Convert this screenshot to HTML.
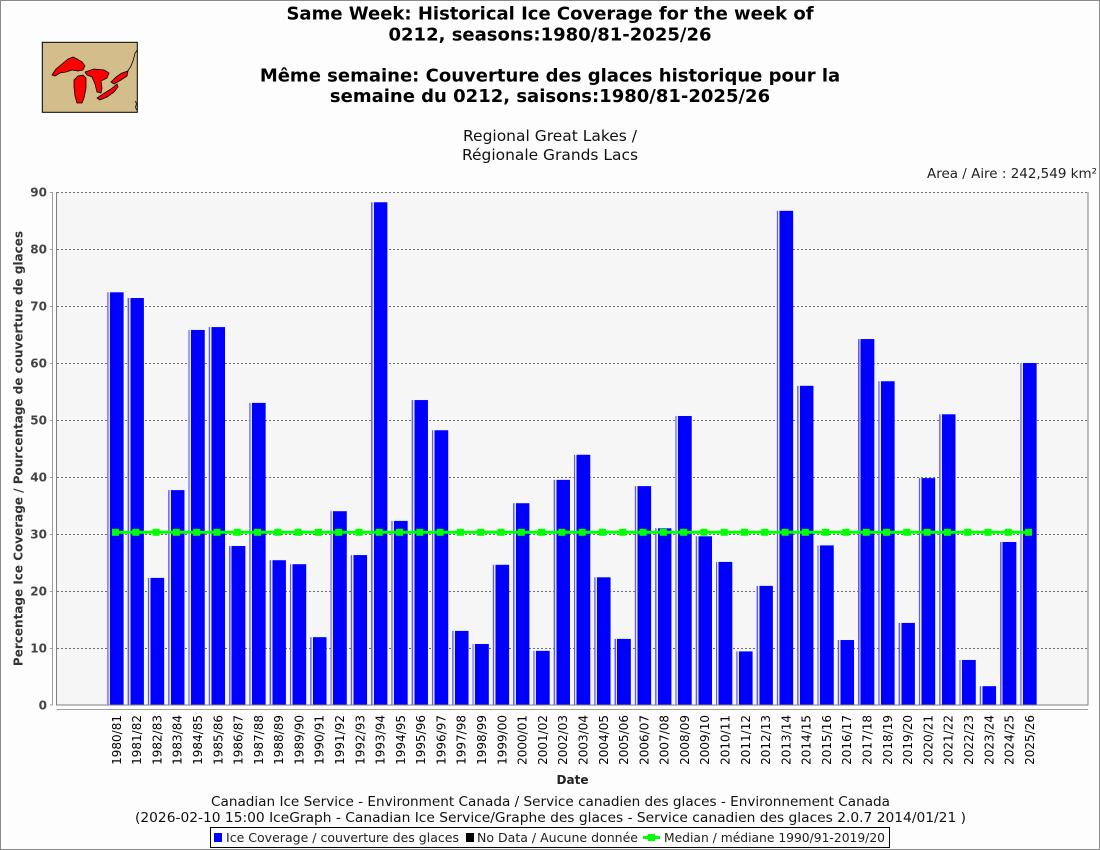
<!DOCTYPE html>
<html>
<head>
<meta charset="utf-8">
<style>
  html,body{margin:0;padding:0;background:#fdfdfd;}
  svg{display:block;}
  text{font-family:"DejaVu Sans","Liberation Sans",sans-serif;}
</style>
</head>
<body>
<svg width="1100" height="850" viewBox="0 0 1100 850" xmlns="http://www.w3.org/2000/svg">
  <defs>
    <linearGradient id="bar" x1="0" y1="0" x2="1" y2="0">
      <stop offset="0" stop-color="#5a5aff"/>
      <stop offset="0.075" stop-color="#5a5aff"/>
      <stop offset="0.075" stop-color="#e4e4ff"/>
      <stop offset="0.165" stop-color="#e4e4ff"/>
      <stop offset="0.165" stop-color="#0000ff"/>
      <stop offset="1" stop-color="#0000ff"/>
    </linearGradient>
  </defs>
  <rect x="0" y="0" width="1100" height="850" fill="#fdfdfd"/>
  <rect x="0.5" y="0.5" width="1099" height="849" fill="none" stroke="#8a8a8a" stroke-width="1"/>

  <!-- Map icon -->
  <g>
    <rect x="42.3" y="42.3" width="95" height="70" fill="#d3bd8b" stroke="#000" stroke-width="1"/>
    <g fill="#ff0000" stroke="#000" stroke-width="0.8" stroke-linejoin="round">
      <polygon points="52,75 56,69 62,64 68,59 73,57 77,59 82,62 85,66 83,70 78,71 72,70 66,72 60,73 55,76"/>
      <polygon points="74,80 78,76 83,75 86,78 86,88 84,98 82,103 77,103 75,96 74,87"/>
      <polygon points="85,72 94,69 104,70 109,73 107,78 101,81 102,88 101,93 97,92 95,84 92,77 87,75"/>
      <polygon points="97,98 103,94 111,89 117,84 118,87 114,92 107,97 100,100"/>
      <polygon points="111,82 116,77 122,73 128,71 127,76 121,80 114,84"/>
    </g>
    <polyline points="127,72 130.7,66.7 133.3,60 135,53.3 137.3,50" fill="none" stroke="#000" stroke-width="0.8"/>
    <polyline points="135.5,101 136.5,104 135.5,107 136.5,110" fill="none" stroke="#000" stroke-width="0.8"/>
  </g>

  <!-- Titles -->
  <g text-anchor="middle" font-weight="bold" font-size="18" fill="#000">
    <text x="550" y="19.5">Same Week: Historical Ice Coverage for the week of</text>
    <text x="550" y="40.5">0212, seasons:1980/81-2025/26</text>
    <text x="550" y="81.5">Même semaine: Couverture des glaces historique pour la</text>
    <text x="550" y="102">semaine du 0212, saisons:1980/81-2025/26</text>
  </g>
  <g text-anchor="middle" font-size="15.3" fill="#111">
    <text x="550" y="141" textLength="174" lengthAdjust="spacingAndGlyphs">Regional Great Lakes /</text>
    <text x="550" y="160" textLength="176" lengthAdjust="spacingAndGlyphs">Régionale Grands Lacs</text>
  </g>
  <text x="927" y="178" font-size="13.5" fill="#222" textLength="170" lengthAdjust="spacingAndGlyphs">Area / Aire : 242,549 km²</text>

  <!-- Plot background -->
  <rect x="56.5" y="192.5" width="1031.5" height="512.5" fill="#f6f6f6"/>

  <!-- Gridlines -->
  <g stroke="#6e6e6e" stroke-width="1" stroke-dasharray="2,2">
    <line x1="57" y1="192.5" x2="1088" y2="192.5"/>
    <line x1="57" y1="249.5" x2="1088" y2="249.5"/>
    <line x1="57" y1="306.5" x2="1088" y2="306.5"/>
    <line x1="57" y1="363.5" x2="1088" y2="363.5"/>
    <line x1="57" y1="420.5" x2="1088" y2="420.5"/>
    <line x1="57" y1="477.5" x2="1088" y2="477.5"/>
    <line x1="57" y1="534.5" x2="1088" y2="534.5"/>
    <line x1="57" y1="591.5" x2="1088" y2="591.5"/>
    <line x1="57" y1="648.5" x2="1088" y2="648.5"/>
  </g>

  <!-- Bars -->
  <g transform="translate(107.3 705) scale(1 -5.7)" fill="url(#bar)">
    <rect x="0" y="0" width="16.3" height="72.4"/>
    <rect x="20.29" y="0" width="16.3" height="71.4"/>
    <rect x="40.58" y="0" width="16.3" height="22.3"/>
    <rect x="60.87" y="0" width="16.3" height="37.7"/>
    <rect x="81.16" y="0" width="16.3" height="65.8"/>
    <rect x="101.45" y="0" width="16.3" height="66.3"/>
    <rect x="121.74" y="0" width="16.3" height="27.9"/>
    <rect x="142.03" y="0" width="16.3" height="53.0"/>
    <rect x="162.32" y="0" width="16.3" height="25.4"/>
    <rect x="182.61" y="0" width="16.3" height="24.7"/>
    <rect x="202.9" y="0" width="16.3" height="11.9"/>
    <rect x="223.19" y="0" width="16.3" height="34.0"/>
    <rect x="243.48" y="0" width="16.3" height="26.3"/>
    <rect x="263.77" y="0" width="16.3" height="88.2"/>
    <rect x="284.06" y="0" width="16.3" height="32.3"/>
    <rect x="304.35" y="0" width="16.3" height="53.5"/>
    <rect x="324.64" y="0" width="16.3" height="48.2"/>
    <rect x="344.93" y="0" width="16.3" height="13.0"/>
    <rect x="365.22" y="0" width="16.3" height="10.7"/>
    <rect x="385.51" y="0" width="16.3" height="24.6"/>
    <rect x="405.8" y="0" width="16.3" height="35.4"/>
    <rect x="426.09" y="0" width="16.3" height="9.5"/>
    <rect x="446.38" y="0" width="16.3" height="39.5"/>
    <rect x="466.67" y="0" width="16.3" height="43.9"/>
    <rect x="486.96" y="0" width="16.3" height="22.4"/>
    <rect x="507.25" y="0" width="16.3" height="11.6"/>
    <rect x="527.54" y="0" width="16.3" height="38.4"/>
    <rect x="547.83" y="0" width="16.3" height="31.0"/>
    <rect x="568.12" y="0" width="16.3" height="50.7"/>
    <rect x="588.41" y="0" width="16.3" height="29.6"/>
    <rect x="608.7" y="0" width="16.3" height="25.1"/>
    <rect x="628.99" y="0" width="16.3" height="9.4"/>
    <rect x="649.28" y="0" width="16.3" height="20.9"/>
    <rect x="669.57" y="0" width="16.3" height="86.7"/>
    <rect x="689.86" y="0" width="16.3" height="56.0"/>
    <rect x="710.15" y="0" width="16.3" height="28.0"/>
    <rect x="730.44" y="0" width="16.3" height="11.4"/>
    <rect x="750.73" y="0" width="16.3" height="64.2"/>
    <rect x="771.02" y="0" width="16.3" height="56.8"/>
    <rect x="791.31" y="0" width="16.3" height="14.4"/>
    <rect x="811.6" y="0" width="16.3" height="39.8"/>
    <rect x="831.89" y="0" width="16.3" height="51.0"/>
    <rect x="852.18" y="0" width="16.3" height="7.9"/>
    <rect x="872.47" y="0" width="16.3" height="3.3"/>
    <rect x="892.76" y="0" width="16.3" height="28.6"/>
    <rect x="913.05" y="0" width="16.3" height="60.0"/>
  </g>

  <!-- Median line -->
  <line x1="115.5" y1="532.3" x2="1028.6" y2="532.3" stroke="#00ff00" stroke-width="3"/>
  <g transform="translate(112 528.8)" fill="#00ff00">
    <rect x="0" width="7" height="7"/>
    <rect x="20.29" width="7" height="7"/>
    <rect x="40.58" width="7" height="7"/>
    <rect x="60.87" width="7" height="7"/>
    <rect x="81.16" width="7" height="7"/>
    <rect x="101.45" width="7" height="7"/>
    <rect x="121.74" width="7" height="7"/>
    <rect x="142.03" width="7" height="7"/>
    <rect x="162.32" width="7" height="7"/>
    <rect x="182.61" width="7" height="7"/>
    <rect x="202.9" width="7" height="7"/>
    <rect x="223.19" width="7" height="7"/>
    <rect x="243.48" width="7" height="7"/>
    <rect x="263.77" width="7" height="7"/>
    <rect x="284.06" width="7" height="7"/>
    <rect x="304.35" width="7" height="7"/>
    <rect x="324.64" width="7" height="7"/>
    <rect x="344.93" width="7" height="7"/>
    <rect x="365.22" width="7" height="7"/>
    <rect x="385.51" width="7" height="7"/>
    <rect x="405.8" width="7" height="7"/>
    <rect x="426.09" width="7" height="7"/>
    <rect x="446.38" width="7" height="7"/>
    <rect x="466.67" width="7" height="7"/>
    <rect x="486.96" width="7" height="7"/>
    <rect x="507.25" width="7" height="7"/>
    <rect x="527.54" width="7" height="7"/>
    <rect x="547.83" width="7" height="7"/>
    <rect x="568.12" width="7" height="7"/>
    <rect x="588.41" width="7" height="7"/>
    <rect x="608.7" width="7" height="7"/>
    <rect x="628.99" width="7" height="7"/>
    <rect x="649.28" width="7" height="7"/>
    <rect x="669.57" width="7" height="7"/>
    <rect x="689.86" width="7" height="7"/>
    <rect x="710.15" width="7" height="7"/>
    <rect x="730.44" width="7" height="7"/>
    <rect x="750.73" width="7" height="7"/>
    <rect x="771.02" width="7" height="7"/>
    <rect x="791.31" width="7" height="7"/>
    <rect x="811.6" width="7" height="7"/>
    <rect x="831.89" width="7" height="7"/>
    <rect x="852.18" width="7" height="7"/>
    <rect x="872.47" width="7" height="7"/>
    <rect x="892.76" width="7" height="7"/>
    <rect x="913.05" width="7" height="7"/>
  </g>

  <!-- Plot border -->
  <line x1="56.5" y1="192" x2="56.5" y2="705.5" stroke="#808080"/>
  <line x1="1088" y1="192" x2="1088" y2="705.5" stroke="#808080"/>
  <line x1="56.5" y1="705" x2="1088" y2="705" stroke="#808080"/>

  <!-- Y axis -->
  <line x1="52.5" y1="192" x2="52.5" y2="705" stroke="#a0a0a0"/>
  <g stroke="#a0a0a0">
    <line x1="50" y1="192.5" x2="52.5" y2="192.5"/>
    <line x1="50" y1="249.5" x2="52.5" y2="249.5"/>
    <line x1="50" y1="306.5" x2="52.5" y2="306.5"/>
    <line x1="50" y1="363.5" x2="52.5" y2="363.5"/>
    <line x1="50" y1="420.5" x2="52.5" y2="420.5"/>
    <line x1="50" y1="477.5" x2="52.5" y2="477.5"/>
    <line x1="50" y1="534.5" x2="52.5" y2="534.5"/>
    <line x1="50" y1="591.5" x2="52.5" y2="591.5"/>
    <line x1="50" y1="648.5" x2="52.5" y2="648.5"/>
    <line x1="50" y1="705" x2="52.5" y2="705"/>
  </g>
  <g text-anchor="end" font-size="12" font-weight="bold" fill="#444">
    <text x="47" y="196.5">90</text>
    <text x="47" y="253.5">80</text>
    <text x="47" y="310.5">70</text>
    <text x="47" y="367.5">60</text>
    <text x="47" y="424.5">50</text>
    <text x="47" y="481.5">40</text>
    <text x="47" y="538.5">30</text>
    <text x="47" y="595.5">20</text>
    <text x="47" y="652.5">10</text>
    <text x="47" y="709.5">0</text>
  </g>
  <text transform="translate(22.5 448.5) rotate(-90)" text-anchor="middle" font-size="12" font-weight="bold" fill="#333">Percentage Ice Coverage / Pourcentage de couverture de glaces</text>

  <!-- X axis -->
  <line x1="57" y1="709.5" x2="1088" y2="709.5" stroke="#a0a0a0"/>
  <g font-size="12" fill="#000" text-anchor="end">
    <text transform="translate(120.8 715) rotate(-90)">1980/81</text>
    <text transform="translate(141.09 715) rotate(-90)">1981/82</text>
    <text transform="translate(161.38 715) rotate(-90)">1982/83</text>
    <text transform="translate(181.67 715) rotate(-90)">1983/84</text>
    <text transform="translate(201.96 715) rotate(-90)">1984/85</text>
    <text transform="translate(222.25 715) rotate(-90)">1985/86</text>
    <text transform="translate(242.54 715) rotate(-90)">1986/87</text>
    <text transform="translate(262.83 715) rotate(-90)">1987/88</text>
    <text transform="translate(283.12 715) rotate(-90)">1988/89</text>
    <text transform="translate(303.41 715) rotate(-90)">1989/90</text>
    <text transform="translate(323.7 715) rotate(-90)">1990/91</text>
    <text transform="translate(343.99 715) rotate(-90)">1991/92</text>
    <text transform="translate(364.28 715) rotate(-90)">1992/93</text>
    <text transform="translate(384.57 715) rotate(-90)">1993/94</text>
    <text transform="translate(404.86 715) rotate(-90)">1994/95</text>
    <text transform="translate(425.15 715) rotate(-90)">1995/96</text>
    <text transform="translate(445.44 715) rotate(-90)">1996/97</text>
    <text transform="translate(465.73 715) rotate(-90)">1997/98</text>
    <text transform="translate(486.02 715) rotate(-90)">1998/99</text>
    <text transform="translate(506.31 715) rotate(-90)">1999/00</text>
    <text transform="translate(526.6 715) rotate(-90)">2000/01</text>
    <text transform="translate(546.89 715) rotate(-90)">2001/02</text>
    <text transform="translate(567.18 715) rotate(-90)">2002/03</text>
    <text transform="translate(587.47 715) rotate(-90)">2003/04</text>
    <text transform="translate(607.76 715) rotate(-90)">2004/05</text>
    <text transform="translate(628.05 715) rotate(-90)">2005/06</text>
    <text transform="translate(648.34 715) rotate(-90)">2006/07</text>
    <text transform="translate(668.63 715) rotate(-90)">2007/08</text>
    <text transform="translate(688.92 715) rotate(-90)">2008/09</text>
    <text transform="translate(709.21 715) rotate(-90)">2009/10</text>
    <text transform="translate(729.5 715) rotate(-90)">2010/11</text>
    <text transform="translate(749.79 715) rotate(-90)">2011/12</text>
    <text transform="translate(770.08 715) rotate(-90)">2012/13</text>
    <text transform="translate(790.37 715) rotate(-90)">2013/14</text>
    <text transform="translate(810.66 715) rotate(-90)">2014/15</text>
    <text transform="translate(830.95 715) rotate(-90)">2015/16</text>
    <text transform="translate(851.24 715) rotate(-90)">2016/17</text>
    <text transform="translate(871.53 715) rotate(-90)">2017/18</text>
    <text transform="translate(891.82 715) rotate(-90)">2018/19</text>
    <text transform="translate(912.11 715) rotate(-90)">2019/20</text>
    <text transform="translate(932.4 715) rotate(-90)">2020/21</text>
    <text transform="translate(952.69 715) rotate(-90)">2021/22</text>
    <text transform="translate(972.98 715) rotate(-90)">2022/23</text>
    <text transform="translate(993.27 715) rotate(-90)">2023/24</text>
    <text transform="translate(1013.56 715) rotate(-90)">2024/25</text>
    <text transform="translate(1033.85 715) rotate(-90)">2025/26</text>
  </g>
  <text x="572.5" y="784" text-anchor="middle" font-size="12" font-weight="bold" fill="#222">Date</text>

  <!-- Footer -->
  <g font-size="13.5" fill="#111">
    <text x="211" y="806" textLength="679" lengthAdjust="spacingAndGlyphs">Canadian Ice Service - Environment Canada / Service canadien des glaces - Environnement Canada</text>
    <text x="135" y="822" textLength="831" lengthAdjust="spacingAndGlyphs">(2026-02-10 15:00 IceGraph - Canadian Ice Service/Graphe des glaces - Service canadien des glaces 2.0.7 2014/01/21 )</text>
  </g>

  <!-- Legend -->
  <rect x="210.5" y="827.5" width="679" height="20" fill="#fdfdfd" stroke="#000" stroke-width="1"/>
  <rect x="214" y="833" width="8" height="9" fill="#0000ff"/>
  <text x="226" y="842" font-size="12.3" fill="#222" textLength="233" lengthAdjust="spacingAndGlyphs">Ice Coverage / couverture des glaces</text>
  <rect x="466" y="833" width="8" height="9" fill="#000"/>
  <text x="477" y="842" font-size="12.3" fill="#222" textLength="161" lengthAdjust="spacingAndGlyphs">No Data / Aucune donnée</text>
  <line x1="643" y1="837.5" x2="660" y2="837.5" stroke="#00ff00" stroke-width="3"/>
  <rect x="648" y="834" width="7" height="7" fill="#00ff00"/>
  <text x="664" y="842" font-size="12.3" fill="#222" textLength="221" lengthAdjust="spacingAndGlyphs">Median / médiane 1990/91-2019/20</text>
</svg>
</body>
</html>
